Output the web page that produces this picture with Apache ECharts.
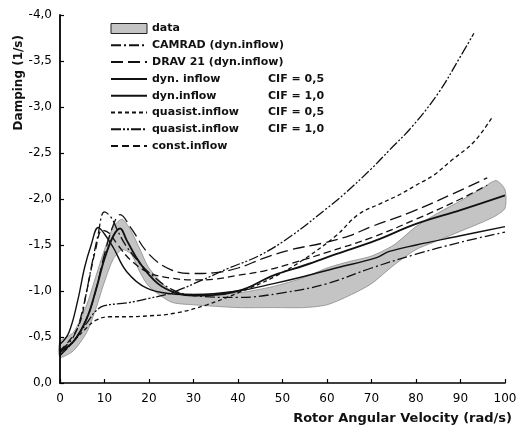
<!DOCTYPE html>
<html><head><meta charset="utf-8">
<script src="https://cdn.jsdelivr.net/npm/echarts@6/dist/echarts.min.js"></script>
<style>html,body{margin:0;padding:0;background:#fff}#c{width:524px;height:436px}</style>
</head><body><div id="c"></div>
<script>
// x tick values and y tick values
const xTicks = [0,10,20,30,40,50,60,70,80,90,100];
const yTicks = [0,-0.5,-1,-1.5,-2,-2.5,-3,-3.5,-4];

// data band (measured)
const bandX     = [0,3,6,8,10,12,14,16,18,20,25,30,40,48,55,60,65,70,75,80,85,90,95,98,100];
const bandLower = [-0.28,-0.35,-0.55,-0.8,-1.1,-1.35,-1.45,-1.4,-1.2,-1.05,-0.88,-0.85,-0.82,-0.82,-0.82,-0.85,-0.95,-1.08,-1.28,-1.45,-1.55,-1.65,-1.75,-1.82,-1.9];
const bandUpper = [-0.45,-0.55,-0.85,-1.15,-1.45,-1.7,-1.78,-1.65,-1.45,-1.25,-1.0,-0.97,-0.98,-1.05,-1.15,-1.25,-1.32,-1.38,-1.5,-1.7,-1.85,-1.98,-2.12,-2.2,-2.1];

// CAMRAD (dyn. inflow)
const camradX = [0,3,5,7,8.5,10,11.5,13,15,18,20,25,30,40,50,60,70,80,90,100];
const camradY = [-0.35,-0.5,-0.78,-1.25,-1.6,-1.86,-1.8,-1.65,-1.48,-1.3,-1.2,-1.02,-0.95,-0.93,-0.98,-1.08,-1.25,-1.4,-1.53,-1.64];

// DRAV 21 (dyn. inflow)
const dravX = [0,3,6,8,10,12,13.5,16,20,25,30,35,40,46,52,59,65,70,79,88,96];
const dravY = [-0.33,-0.45,-0.7,-1.0,-1.4,-1.72,-1.83,-1.68,-1.4,-1.23,-1.19,-1.2,-1.25,-1.36,-1.45,-1.52,-1.6,-1.7,-1.86,-2.05,-2.23];

// dyn. inflow CIF = 0.5
const dyn05X = [0,2,4,5.5,7,8.6,10,12,15,19.5,25,30,40,48,55,62,71,74,80,90,100];
const dyn05Y = [-0.42,-0.55,-0.9,-1.25,-1.5,-1.69,-1.62,-1.47,-1.21,-1.03,-0.97,-0.96,-1.0,-1.08,-1.16,-1.25,-1.36,-1.43,-1.5,-1.6,-1.7];

// dyn. inflow CIF = 1.0
const dyn10X = [0,3,6,8,10,12,13.5,15,18,22,26,30,40,48,55,62,71,80,90,100];
const dyn10Y = [-0.35,-0.45,-0.7,-1.0,-1.35,-1.6,-1.68,-1.55,-1.3,-1.08,-0.98,-0.95,-1.0,-1.17,-1.28,-1.4,-1.55,-1.73,-1.88,-2.04];

// quasist. inflow CIF = 0.5
const qs05X = [0,3,6,8,11,15,20,26,33,40,48,55,62,67,72,76,80,84,88,93,97];
const qs05Y = [-0.3,-0.45,-0.6,-0.68,-0.72,-0.72,-0.73,-0.76,-0.85,-0.98,-1.15,-1.35,-1.6,-1.83,-1.95,-2.04,-2.15,-2.26,-2.42,-2.62,-2.88];

// quasist. inflow CIF = 1.0
const qs10X = [0,3,6,8,10,15,20,25,32,38,45,52,60,64,70,74,79,85,90,93];
const qs10Y = [-0.3,-0.45,-0.65,-0.78,-0.84,-0.87,-0.92,-0.98,-1.12,-1.25,-1.39,-1.6,-1.9,-2.06,-2.33,-2.53,-2.78,-3.15,-3.55,-3.8];

// const. inflow
const constX = [0,4,6,8,9.5,11,13,16,20,25,30,35,40,46,52,60,70,80,90,96];
const constY = [-0.35,-0.6,-1.0,-1.45,-1.66,-1.63,-1.5,-1.33,-1.2,-1.14,-1.12,-1.13,-1.17,-1.22,-1.3,-1.42,-1.58,-1.78,-2.0,-2.15];

const zip = (xs, ys) => xs.map((x, i) => [x, ys[i]]);

const FONT = 'DejaVu Sans';
const chart = echarts.init(document.getElementById('c'), null, {renderer: 'canvas'});

function lineSeries(name, xs, ys, dash, width) {
  return {
    name: name, type: 'line', smooth: 0.4, symbol: 'none',
    data: zip(xs, ys),
    lineStyle: {color: '#111', width: width || 1.3, type: dash},
    itemStyle: {color: '#111'},
    z: 5
  };
}

const lineNames = ['CAMRAD (dyn.inflow)', 'DRAV 21 (dyn.inflow)',
  'dyn. inflow CIF = 0,5', 'dyn.inflow CIF = 1,0',
  'quasist.inflow CIF = 0,5', 'quasist.inflow CIF = 1,0', 'const.inflow'];

const option = {
  animation: false,
  backgroundColor: '#fff',
  grid: {left: 60, right: 19, top: 15, bottom: 53, containLabel: false},
  xAxis: {
    type: 'value', min: 0, max: 100, interval: 10, z: 10,
    axisLine: {lineStyle: {color: '#000', width: 1.6}},
    axisTick: {show: true, length: 4, inside: true, lineStyle: {color: '#000', width: 1.2}},
    axisLabel: {color: '#000', fontFamily: FONT, fontSize: 12, margin: 10,
      formatter: v => xTicks.includes(v) ? String(v) : ''},
    splitLine: {show: false}
  },
  yAxis: {
    type: 'value', min: -4, max: 0, interval: 0.5, inverse: true, z: 10,
    axisLine: {show: true, lineStyle: {color: '#000', width: 1.8}},
    axisTick: {show: true, length: 4, inside: true, lineStyle: {color: '#000', width: 1.2}},
    axisLabel: {color: '#000', fontFamily: FONT, fontSize: 12, margin: 8,
      formatter: v => yTicks.includes(v) ? (v === 0 ? '0,0' : v.toFixed(1).replace('.', ',')) : ''},
    splitLine: {show: false}
  },
  legend: {
    orient: 'vertical', left: 105, top: 18,
    itemWidth: 36, itemHeight: 10, itemGap: 5.8,
    textStyle: {fontFamily: FONT, fontSize: 11, fontWeight: 'bold', color: '#111',
      rich: {a: {width: 116, fontFamily: FONT, fontSize: 11, fontWeight: 'bold', color: '#111'},
             b: {fontFamily: FONT, fontSize: 11, fontWeight: 'bold', color: '#111'}}},
    formatter: function (name) {
      const i = name.indexOf('CIF');
      if (i < 0) return name;
      return '{a|' + name.slice(0, i).trim() + '}{b|' + name.slice(i) + '}';
    },
    data: [{name: 'data', icon: 'rect', itemStyle: {color: '#c4c4c4', borderColor: '#222', borderWidth: 1}}]
      .concat(lineNames.map(n => ({name: n, itemStyle: {opacity: 0}})))
  },
  graphic: [
    {type: 'text', left: 13, top: 35, rotation: Math.PI / 2,
      style: {text: 'Damping (1/s)', fontFamily: FONT, fontSize: 12, fontWeight: 'bold', fill: '#111'}},
    {type: 'text', right: 12, top: 412,
      style: {text: 'Rotor Angular Velocity (rad/s)', fontFamily: FONT, fontSize: 13, fontWeight: 'bold', fill: '#111'}}
  ],
  series: [
    {name: 'data', type: 'custom', z: 2,
      itemStyle: {color: '#c4c4c4'},
      data: [[bandX[0], bandLower[0]]],
      renderItem: function (params, api) {
        const pts = [];
        for (let i = 0; i < bandX.length; i++) pts.push(api.coord([bandX[i], bandUpper[i]]));
        for (let i = bandX.length - 1; i >= 0; i--) pts.push(api.coord([bandX[i], bandLower[i]]));
        return {type: 'polygon', shape: {points: pts, smooth: 0.25},
          style: {fill: '#c4c4c4', stroke: '#8a8a8a', lineWidth: 0.8}};
      }},
    lineSeries(lineNames[0], camradX, camradY, [10, 3, 2, 3]),
    lineSeries(lineNames[1], dravX, dravY, [12, 5]),
    lineSeries(lineNames[2], dyn05X, dyn05Y, 'solid', 1.4),
    lineSeries(lineNames[3], dyn10X, dyn10Y, 'solid', 1.9),
    lineSeries(lineNames[4], qs05X, qs05Y, [4, 3]),
    lineSeries(lineNames[5], qs10X, qs10Y, [10, 2, 2, 2, 2, 2]),
    lineSeries(lineNames[6], constX, constY, [7, 4])
  ]
};
chart.setOption(option);
</script>
</body></html>
